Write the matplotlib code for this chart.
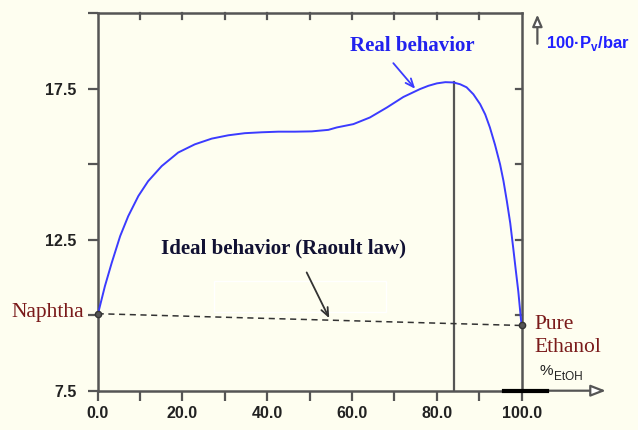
import matplotlib.pyplot as plt

# data
x_real = [0, 0.15, 1.7, 3.3, 5.3, 7.2, 9.6, 11.9, 15.1, 19.0, 22.9, 26.9, 30.8, 34.7,
          38.7, 42.6, 46.5, 50.5, 54.4, 56.4, 60.3, 64.2, 68.2, 72.1, 76.0, 78.0,
          80.0, 82.0, 83.9, 85.5, 87.0, 88.6, 90.2, 91.4, 92.5, 93.7, 94.9, 95.7,
          96.5, 97.3, 98.0, 98.6, 99.2, 99.8, 100]
y_real = [10.05, 10.09, 10.96, 11.73, 12.62, 13.28, 13.95, 14.44, 14.94, 15.39, 15.66,
          15.85, 15.96, 16.03, 16.06, 16.08, 16.08, 16.09, 16.14, 16.22, 16.33, 16.55,
          16.88, 17.23, 17.49, 17.6, 17.68, 17.72, 17.71, 17.65, 17.55, 17.32, 16.99,
          16.65, 16.22, 15.65, 15.0, 14.45, 13.78, 13.05, 12.23, 11.5, 10.79, 9.9,
          9.66]
x_ideal = [0, 100]
y_ideal = [10.05, 9.66]
x_azeo = 84.0
y_azeo = 17.71

xticks_major = [0, 20, 40, 60, 80, 100]
xtick_labels = ["0.0", "20.0", "40.0", "60.0", "80.0", "100.0"]
yticks_major = [7.5, 12.5, 17.5]
ytick_labels = ["7.5", "12.5", "17.5"]

bg = "#fefef0"
axc = "#555555"

fig = plt.figure(figsize=(6.38, 4.30), dpi=100, facecolor=bg)
ax = fig.add_axes([0.1531, 0.0914, 0.8177 - 0.1531, 0.969 - 0.0914])
ax.set_facecolor(bg)
ax.set_xlim(0, 100)
ax.set_ylim(7.5, 20)

for s in ax.spines.values():
    s.set_color(axc)
    s.set_linewidth(1.8)

ax.plot(x_real, y_real, color="#3b3bff", lw=1.4, zorder=3, solid_joinstyle="round")
ax.plot(x_ideal, y_ideal, color="#333333", lw=1.1, ls=(0, (4, 3)), zorder=3)
ax.plot(x_ideal, y_ideal, "o", ms=4.5, mfc="#555555", mec="#333333", zorder=4,
        clip_on=False)
ax.plot([x_azeo, x_azeo], [7.5, y_azeo], color=axc, lw=1.6, zorder=2)

# ticks
ax.set_xticks(range(0, 101, 10), minor=True)
ax.set_xticks(xticks_major, xtick_labels)
ax.set_yticks([7.5, 10, 12.5, 15, 17.5, 20], minor=True)
ax.set_yticks(yticks_major, ytick_labels)
ax.tick_params(which="both", direction="out", length=7, width=1.6, color=axc,
               top=False, right=False)
tickfont = dict(family="Liberation Sans", weight="bold", size=11.5)
for lab in ax.get_xticklabels() + ax.get_yticklabels():
    lab.set_fontproperties(tickfont)
    lab.set_color("#222222")
ax.tick_params(axis="x", pad=4)
ax.tick_params(axis="y", pad=8)

# inward ticks on top and right
tl = 6 / (fig.get_figheight() * 100 * (0.969 - 0.0914)) * 12.5
for xv in range(10, 100, 10):
    ax.plot([xv, xv], [20, 20 - tl], color=axc, lw=1.6, clip_on=False)
tw = 6 / 4.24
for yv in [10, 12.5, 15, 17.5]:
    ax.plot([100 - tw, 100], [yv, yv], color=axc, lw=1.6, clip_on=False)

# axis arrows
ax.annotate("", xy=(120.5, 7.5), xytext=(100, 7.5), xycoords="data",
            arrowprops=dict(arrowstyle="-|>,head_length=0.9,head_width=0.35",
                            fc="white", ec=axc, lw=1.6), annotation_clip=False)
ax.annotate("", xy=(103.7, 20.05), xytext=(103.7, 18.9),
            arrowprops=dict(arrowstyle="-|>,head_length=0.7,head_width=0.3",
                            fc="white", ec=axc, lw=1.6), annotation_clip=False)
ax.plot([95.8, 106], [7.5, 7.5], color="black", lw=3, clip_on=False, zorder=5)

# labels
ax.text(105.8, 19.0, r"100·P$_\mathregular{v}$/bar", color="#2020ff",
        fontsize=12, fontweight="bold", family="Liberation Sans", va="center")
ax.text(104.3, 8.15, "%", color="#222222", fontsize=11, family="Liberation Sans",
        va="center")
ax.text(107.6, 7.95, "EtOH", color="#222222", fontsize=8.5,
        family="Liberation Sans", va="center")

serif = "Liberation Serif"
ax.text(-3.3, 10.1, "Naphtha", color="#7a1a1a", fontsize=15.5, family=serif,
        ha="right", va="center")
ax.text(103, 9.68, "Pure", color="#7a1a1a", fontsize=15.5, family=serif,
        va="center")
ax.text(103, 8.92, "Ethanol", color="#7a1a1a", fontsize=15.5, family=serif,
        va="center")

ax.text(74.1, 18.93, "Real behavior", color="#2222ee", fontsize=15,
        fontweight="bold", family=serif, ha="center", va="center")
ax.annotate("", xy=(75.3, 17.43), xytext=(69.3, 18.42),
            arrowprops=dict(arrowstyle="->,head_length=0.6,head_width=0.25",
                            color="#3b3bff", lw=1.3))

ax.text(43.9, 12.2, "Ideal behavior (Raoult law)", color="#111133",
        fontsize=15, fontweight="bold", family=serif, ha="center",
        va="center")
ax.annotate("", xy=(54.9, 9.82), xytext=(49.0, 11.5),
            arrowprops=dict(arrowstyle="->,head_length=0.6,head_width=0.25",
                            color="#333333", lw=1.3))

ax.add_patch(plt.Rectangle((27.5, 10.1), 40.5, 2.8 * 0.375, fill=False,
                           ec="white", lw=1, zorder=1))

fig.savefig("out.png", dpi=100, facecolor=bg)
